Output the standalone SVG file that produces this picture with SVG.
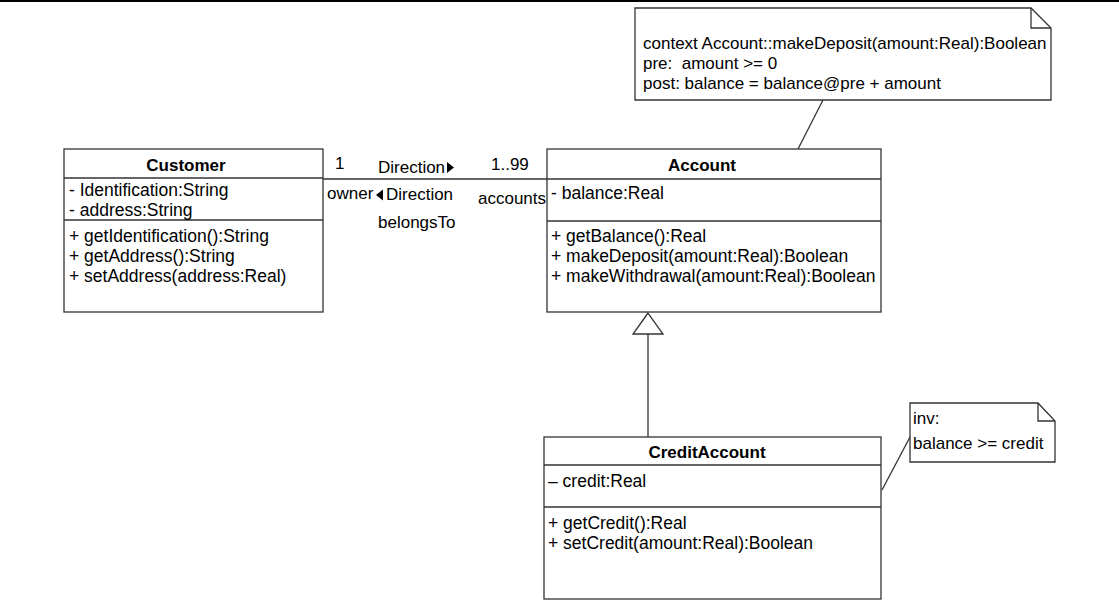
<svg xmlns="http://www.w3.org/2000/svg" width="1119" height="601" viewBox="0 0 1119 601">
<style>
.box{fill:#fff;stroke:#333;stroke-width:1.3}
.ln{stroke:#333;stroke-width:1.3;fill:none}
text{font-family:"Liberation Sans",Arial,sans-serif;font-size:17.5px;fill:#000}
.t{font-weight:bold;font-size:17px}
.n{font-size:17px}
</style>
<rect x="0" y="0" width="1119" height="601" fill="#fff"/>
<line x1="0" y1="1" x2="1119" y2="1" stroke="#000" stroke-width="2"/>
<g id="connectors">
<line class="ln" x1="323" y1="179" x2="547" y2="179"/>
<polygon points="447,162 447,173 454,167.5" fill="#000"/>
<polygon points="383,189.5 383,200.5 376,195" fill="#000"/>
<line class="ln" x1="648" y1="334" x2="648" y2="437"/>
<polygon points="648,313 633,334 663,334" fill="#fff" stroke="#333" stroke-width="1.3"/>
<line class="ln" x1="823" y1="100" x2="798" y2="149"/>
<line class="ln" x1="910" y1="437" x2="882" y2="490"/>
<text class="n" x="335" y="169">1</text>
<text class="n" x="378" y="173">Direction</text>
<text class="n" x="491" y="170">1..99</text>
<text class="n" x="327" y="199">owner</text>
<text class="n" x="386" y="200">Direction</text>
<text class="n" x="478" y="204">accounts</text>
<text class="n" x="378" y="228">belongsTo</text>
</g>
<g id="customer">
<rect class="box" x="64" y="149" width="259" height="163"/>
<line class="ln" x1="64" y1="178" x2="323" y2="178"/>
<line class="ln" x1="64" y1="220" x2="323" y2="220"/>
<text class="t" x="186" y="171" text-anchor="middle">Customer</text>
<text x="69" y="196">- Identification:String</text>
<text x="69" y="216">- address:String</text>
<text x="69" y="242">+ getIdentification():String</text>
<text x="69" y="262">+ getAddress():String</text>
<text x="69" y="282">+ setAddress(address:Real)</text>
</g>
<g id="account">
<rect class="box" x="547" y="149" width="334" height="163"/>
<line class="ln" x1="547" y1="179" x2="881" y2="179"/>
<line class="ln" x1="547" y1="221" x2="881" y2="221"/>
<text class="t" x="702" y="171" text-anchor="middle">Account</text>
<text x="551" y="199">- balance:Real</text>
<text x="551" y="242">+ getBalance():Real</text>
<text x="551" y="262">+ makeDeposit(amount:Real):Boolean</text>
<text x="551" y="282">+ makeWithdrawal(amount:Real):Boolean</text>
</g>
<g id="creditaccount">
<rect class="box" x="544" y="437" width="337" height="162"/>
<line class="ln" x1="544" y1="465" x2="881" y2="465"/>
<line class="ln" x1="544" y1="507" x2="881" y2="507"/>
<text class="t" x="707" y="458" text-anchor="middle">CreditAccount</text>
<text x="548" y="487">– credit:Real</text>
<text x="548" y="529">+ getCredit():Real</text>
<text x="548" y="549">+ setCredit(amount:Real):Boolean</text>
</g>
<g id="note-deposit">
<path class="box" d="M635,8 H1031 L1051,28 V100 H635 Z"/>
<path class="ln" d="M1031,8 V28 H1051"/>
<text class="n" x="643" y="49">context Account::makeDeposit(amount:Real):Boolean</text>
<text class="n" x="643" y="69" xml:space="preserve">pre:  amount &gt;= 0</text>
<text class="n" x="643" y="89">post: balance = balance@pre + amount</text>
</g>
<g id="note-inv">
<path class="box" d="M910,403 H1038 L1055,421 V462 H910 Z"/>
<path class="ln" d="M1038,403 V421 H1055"/>
<text class="n" x="913" y="424">inv:</text>
<text class="n" x="913" y="449">balance &gt;= credit</text>
</g>
</svg>
